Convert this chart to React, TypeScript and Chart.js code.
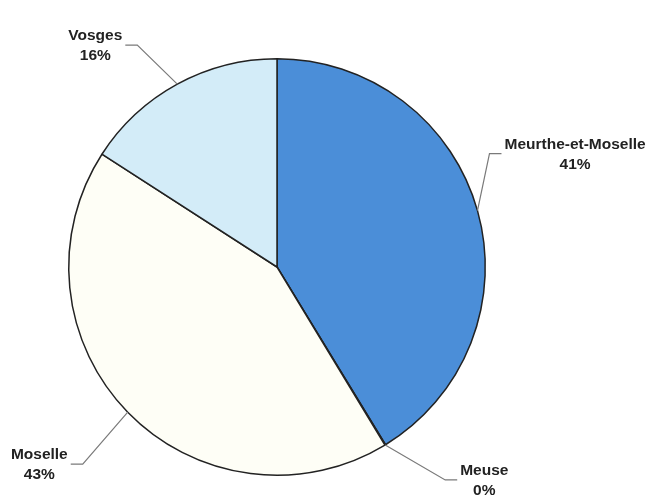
import React, { useEffect, useRef } from "react";
import { Chart, registerables } from "chart.js";

Chart.register(...registerables);

const categories = ["Meurthe-et-Moselle", "Meuse", "Moselle", "Vosges"];
const values = [41.3, 0.05, 42.8, 15.9];
const percentLabels = ["41%", "0%", "43%", "16%"];
const colors = ["#4b8ed8", "#fefef6", "#fefef6", "#d3ecf8"];

// leader line layout: elbow offset from slice edge point, horizontal tail direction
const leaderLayout = [
  { dx: 12, dy: -57, side: 1 },
  { dx: 60, dy: 35, side: 1 },
  { dx: -45, dy: 52, side: -1 },
  { dx: -40, dy: -39, side: -1 },
];

const labelPlugin = {
  id: "leaderLabels",
  afterDatasetsDraw(chart: any) {
    const ctx = chart.ctx;
    const meta = chart.getDatasetMeta(0);
    ctx.save();
    ctx.font = "bold 15.5px 'Liberation Sans', Arial, sans-serif";
    meta.data.forEach((arc: any, i: number) => {
      const p = arc.getProps(["x", "y", "startAngle", "endAngle", "outerRadius"], true);
      const mid = (p.startAngle + p.endAngle) / 2;
      const ex = p.x + Math.cos(mid) * p.outerRadius;
      const ey = p.y + Math.sin(mid) * p.outerRadius;
      const L = leaderLayout[i];
      const bx = ex + L.dx;
      const by = ey + L.dy;
      const hx = bx + L.side * 12;
      ctx.strokeStyle = "#7a7a7a";
      ctx.lineWidth = 1.2;
      ctx.beginPath();
      ctx.moveTo(ex, ey);
      ctx.lineTo(bx, by);
      ctx.lineTo(hx, by);
      ctx.stroke();
      const w = Math.max(ctx.measureText(categories[i]).width, ctx.measureText(percentLabels[i]).width);
      const cx = hx + L.side * (w / 2 + 3);
      ctx.fillStyle = "#222222";
      ctx.textAlign = "center";
      ctx.textBaseline = "middle";
      ctx.fillText(categories[i], cx, by - 9);
      ctx.fillText(percentLabels[i], cx, by + 11);
    });
    ctx.restore();
  },
};

export default function App() {
  const ref = useRef<HTMLCanvasElement>(null);
  useEffect(() => {
    document.body.style.margin = "0";
    const chart = new Chart(ref.current!, {
      type: "pie",
      data: {
        labels: categories,
        datasets: [
          {
            data: values,
            backgroundColor: colors,
            borderColor: "#222222",
            borderWidth: 1.5,
          },
        ],
      },
      options: {
        responsive: false,
        animation: false,
        layout: { padding: { left: 68, right: 167, top: 58, bottom: 22 } },
        plugins: { legend: { display: false }, tooltip: { enabled: false } },
      },
      plugins: [labelPlugin],
    });
    return () => chart.destroy();
  }, []);
  return (
    <div style={{ width: 653, height: 498, background: "#ffffff" }}>
      <canvas ref={ref} width={653} height={498} />
    </div>
  );
}
